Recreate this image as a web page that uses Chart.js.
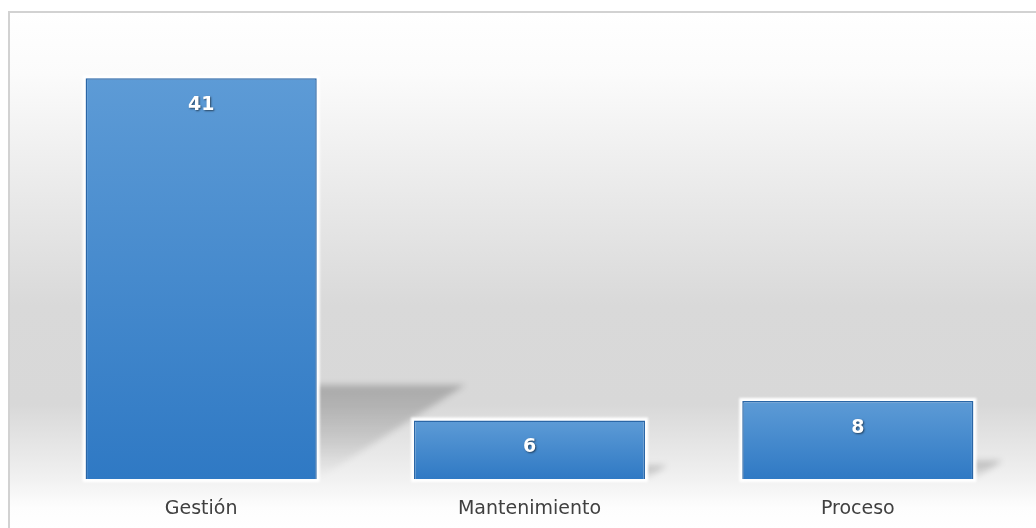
<!DOCTYPE html>
<html>
<head>
<meta charset="utf-8">
<script src="https://cdn.jsdelivr.net/npm/chart.js"></script>
<style>
  html, body { margin: 0; padding: 0; background: #fff; overflow: hidden; }
  #wrap { width: 1036px; height: 528px; position: relative; }
</style>
</head>
<body>
<div id="wrap"><canvas id="chart" width="1036" height="528"></canvas></div>
<script>
// data
const categories = ['Gestión', 'Mantenimiento', 'Proceso'];
const counts = [41, 6, 8];
const yMax = 45;

// frame + grey backdrop behind everything
const backdrop = {
  id: 'backdrop',
  beforeDraw(chart) {
    const { ctx, width, height } = chart;
    ctx.save();
    ctx.fillStyle = '#ffffff';
    ctx.fillRect(0, 0, width, height);
    const g = ctx.createLinearGradient(0, 12, 0, height);
    g.addColorStop(0, '#ffffff');
    g.addColorStop(0.12, '#fbfbfb');
    g.addColorStop(0.57, '#d9d9d9');
    g.addColorStop(0.76, '#d8d8d8');
    g.addColorStop(0.9, '#f0f0f0');
    g.addColorStop(0.96, '#fdfdfd');
    g.addColorStop(1, '#ffffff');
    ctx.fillStyle = g;
    ctx.fillRect(9, 12, width - 9, height - 12);
    ctx.strokeStyle = '#d2d2d2';
    ctx.lineWidth = 2;
    ctx.beginPath();
    ctx.moveTo(9, height);
    ctx.lineTo(9, 12);
    ctx.lineTo(width, 12);
    ctx.stroke();
    ctx.restore();
  }
};

// perspective shadow + white glow, drawn from the bar elements
const barFx = {
  id: 'barFx',
  beforeDatasetsDraw(chart) {
    const { ctx } = chart;
    const bars = chart.getDatasetMeta(0).data;
    ctx.save();
    bars.forEach(bar => {
      const { x, y, base, width } = bar.getProps(['x', 'y', 'base', 'width'], true);
      const L = x - width / 2, R = x + width / 2;
      const h = base - y;
      const dx = 0.37 * h, dy = 0.235 * h;
      const g = ctx.createLinearGradient(0, base - dy, 0, base);
      g.addColorStop(0, 'rgba(0,0,0,0.21)');
      g.addColorStop(0.6, 'rgba(0,0,0,0.11)');
      g.addColorStop(1, 'rgba(0,0,0,0.0)');
      ctx.filter = 'blur(3px)';
      ctx.fillStyle = g;
      ctx.beginPath();
      ctx.moveTo(L, base);
      ctx.lineTo(R, base);
      ctx.lineTo(R + dx, base - dy);
      ctx.lineTo(L + dx, base - dy);
      ctx.closePath();
      ctx.fill();
    });
    ctx.filter = 'blur(1px)';
    ctx.fillStyle = '#ffffff';
    bars.forEach(bar => {
      const { x, y, base, width } = bar.getProps(['x', 'y', 'base', 'width'], true);
      ctx.fillRect(x - width / 2 - 3, y - 3, width + 6, base - y + 6);
    });
    ctx.filter = 'none';
    ctx.restore();
  },
  afterDatasetsDraw(chart) {
    const { ctx } = chart;
    const bars = chart.getDatasetMeta(0).data;
    ctx.save();
    ctx.font = 'bold 19px "DejaVu Sans"';
    ctx.textAlign = 'center';
    ctx.textBaseline = 'middle';
    ctx.fillStyle = '#ffffff';
    ctx.shadowColor = 'rgba(0,0,0,0.55)';
    ctx.shadowBlur = 2;
    ctx.shadowOffsetX = 1;
    ctx.shadowOffsetY = 1;
    bars.forEach((bar, i) => {
      const { x, y } = bar.getProps(['x', 'y'], true);
      ctx.fillText(String(counts[i]), x, y + 27);
    });
    ctx.restore();
  }
};

function barFill(context) {
  const chart = context.chart;
  const ys = chart.scales.y;
  if (!ys || !chart.chartArea) return '#4a8bd0';
  const top = ys.getPixelForValue(counts[context.dataIndex]);
  const base = ys.getPixelForValue(0);
  const g = chart.ctx.createLinearGradient(0, top, 0, base);
  g.addColorStop(0, '#5d9bd6');
  g.addColorStop(1, '#2f79c4');
  return g;
}

new Chart(document.getElementById('chart'), {
  type: 'bar',
  data: {
    labels: categories,
    datasets: [{
      data: counts,
      backgroundColor: barFill,
      borderColor: '#2a66a6',
      borderWidth: 1.5,
      barPercentage: 0.704,
      categoryPercentage: 1
    }]
  },
  options: {
    responsive: false,
    animation: false,
    devicePixelRatio: 1,
    layout: { padding: { left: 37, right: 14, top: 39, bottom: -10 } },
    plugins: { legend: { display: false }, tooltip: { enabled: false } },
    scales: {
      x: {
        grid: { display: false, drawTicks: false },
        border: { display: false },
        ticks: {
          padding: 18,
          color: '#404040',
          font: { family: 'DejaVu Sans', size: 19 }
        }
      },
      y: { display: false, min: 0, max: yMax }
    }
  },
  plugins: [backdrop, barFx]
});
</script>
</body>
</html>
